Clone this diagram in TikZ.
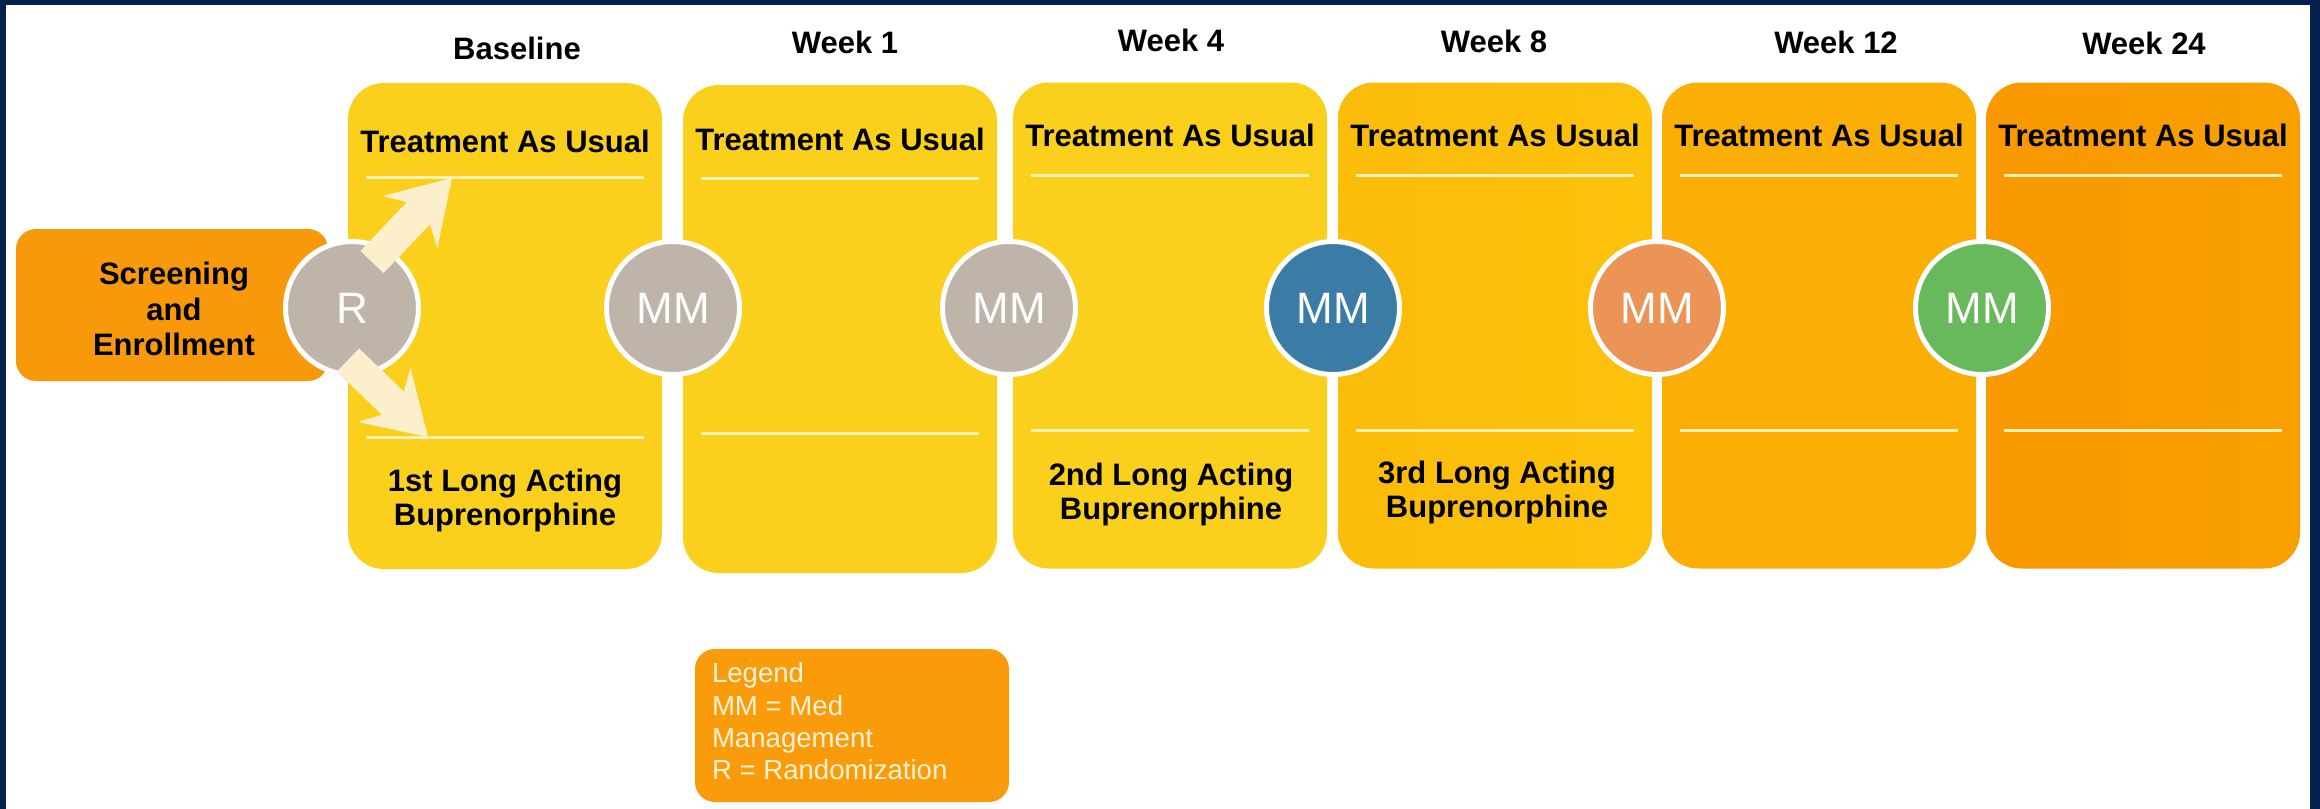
\documentclass[tikz,border=0pt]{standalone}
\usepackage{fontspec}
\setmainfont{Liberation Sans}
\usetikzlibrary{arrows.meta,calc}
\definecolor{navy}{HTML}{03214A}
\definecolor{ylw}{HTML}{FAD01C}
\definecolor{wkeightl}{HTML}{FBBC0A}
\definecolor{wkeightr}{HTML}{FCC20C}
\definecolor{wktwelve}{HTML}{FAAE06}
\definecolor{wkfourl}{HTML}{F99800}
\definecolor{wkfourr}{HTML}{F9A000}
\definecolor{scrc}{HTML}{F7990A}
\definecolor{legc}{HTML}{F99B0A}
\definecolor{sepc}{HTML}{FFF1B8}
\definecolor{arrc}{HTML}{FCEFCB}
\definecolor{greyc}{HTML}{BEB4AA}
\definecolor{bluec}{HTML}{3A7CA6}
\definecolor{orc}{HTML}{EB9455}
\definecolor{grc}{HTML}{68B85C}
\definecolor{legtxtc}{HTML}{FFF3D6}
\begin{document}
\begin{tikzpicture}[x=0.5pt,y=-0.5pt,
  col/.style={rounded corners=18pt, minimum width=157pt, minimum height=243pt, inner sep=0pt, draw=none},
  wk/.style={font=\bfseries\fontsize{15.5}{18}\selectfont, anchor=base, inner sep=0pt, text=black},
  bot/.style={font=\bfseries\fontsize{15.5}{17}\selectfont, align=center, inner sep=0pt, text=black},
  sepline/.style={draw=sepc, line width=1.5pt},
  mm/.style={circle, draw=white, line width=2.5pt, minimum size=66.5pt, inner sep=0pt, text=white, font=\fontsize{22}{26}\selectfont},
  fatarrow/.style={draw=arrc, line width=16pt, line cap=butt, -{Stealth[length=30pt, width=37pt, inset=10pt]}},
  scrbox/.style={rounded corners=10pt, fill=scrc, minimum width=156pt, minimum height=76pt, inner sep=0pt},
  scrtext/.style={align=center, inner sep=0pt, font=\bfseries\fontsize{15.5}{17.9}\selectfont, text=black},
  legbox/.style={rounded corners=10pt, fill=legc, minimum width=157pt, minimum height=76.5pt, inner sep=0pt},
  legtext/.style={align=left, inner sep=0pt, anchor=west, text=legtxtc, font=\fontsize{13.8}{16.2}\selectfont}
]
\useasboundingbox (0,0) rectangle (2320,809);
\fill[white] (0,0) rectangle (2320,809);
\fill[navy] (0,0) rectangle (2320,5);
\fill[navy] (0,0) rectangle (6,809);
\fill[navy] (2310,0) rectangle (2320,809);

% columns
\node[col, fill=ylw] (c0) at (505,326) {};
\node[col, fill=ylw, minimum height=244pt] (c1) at (840,329) {};
\node[col, fill=ylw] (c2) at (1170,325.5) {};
\node[col, left color=wkeightl, right color=wkeightr] (c3) at (1495,325.5) {};
\node[col, fill=wktwelve] (c4) at (1819,325.5) {};
\node[col, left color=wkfourl, right color=wkfourr] (c5) at (2143,325.5) {};

% separator lines
\draw[sepline] ($(c0.north west)+(18,95)$) -- ($(c0.north east)+(-18,95)$);
\draw[sepline] ($(c0.north west)+(18,355)$) -- ($(c0.north east)+(-18,355)$);
\draw[sepline] ($(c1.north west)+(18,94)$) -- ($(c1.north east)+(-18,94)$);
\draw[sepline] ($(c1.north west)+(18,349)$) -- ($(c1.north east)+(-18,349)$);
\foreach \c in {c2,c3,c4,c5}{
  \draw[sepline] ($(\c.north west)+(18,93)$) -- ($(\c.north east)+(-18,93)$);
  \draw[sepline] ($(\c.north west)+(18,348)$) -- ($(\c.north east)+(-18,348)$);
}

% week labels
\node[wk] (l0) at (517,59) {Baseline};
\node[wk] (l1) at (845,53) {Week 1};
\node[wk] (l2) at (1171,51) {Week 4};
\node[wk] (l3) at (1494,52) {Week 8};
\node[wk] (l4) at (1836,53) {Week 12};
\node[wk] (l5) at (2144,54) {Week 24};

% treatment as usual
\node[wk] (t0) at (505,152) {Treatment As Usual};
\node[wk] (t1) at (840,150) {Treatment As Usual};
\node[wk] (t2) at (1170,146) {Treatment As Usual};
\node[wk] (t3) at (1495,146) {Treatment As Usual};
\node[wk] (t4) at (1819,146) {Treatment As Usual};
\node[wk] (t5) at (2143,146) {Treatment As Usual};

% bottom texts
\node[bot] (b0) at (505,500) {1st Long Acting\\Buprenorphine};
\node[bot] (b2) at (1171,494) {2nd Long Acting\\Buprenorphine};
\node[bot] (b3) at (1497,492) {3rd Long Acting\\Buprenorphine};

% screening
\node[scrbox] (scr) at (172,305) {};
\node[scrtext] (scrt) at ($(scr.center)+(2,4)$) {Screening\\and\\Enrollment};

% legend
\node[legbox] (leg) at (852,725.5) {};
\node[legtext] (legt) at ($(leg.west)+(17,-4)$) {Legend\\MM = Med\\Management\\R = Randomization};

% circles
\node[mm, fill=greyc] (R) at (352,308) {R};
\node[mm, fill=greyc] (m1) at (673,308) {MM};
\node[mm, fill=greyc] (m2) at (1009,308) {MM};
\node[mm, fill=bluec] (m3) at (1333,308) {MM};
\node[mm, fill=orc] (m4) at (1657,308) {MM};
\node[mm, fill=grc] (m5) at (1982,308) {MM};

% randomization arrows
\coordinate (upTail) at ($(R.center)+(20,-46)$);
\coordinate (upTip) at (452,178);
\coordinate (dnTail) at ($(R.center)+(-4,52)$);
\coordinate (dnTip) at (428,437);
\draw[fatarrow] (upTail) -- (upTip);
\draw[fatarrow] (dnTail) -- (dnTip);
\end{tikzpicture}
\end{document}
